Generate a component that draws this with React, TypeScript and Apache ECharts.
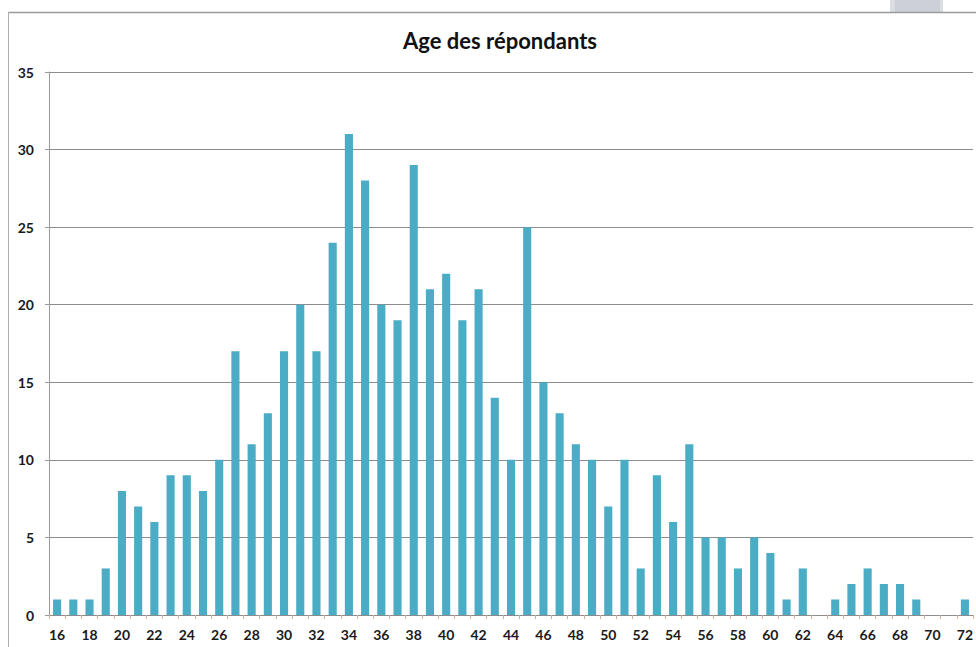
import React, { useEffect, useRef } from "react";
import * as echarts from "echarts";

const ages: string[] = [
  "16","17","18","19","20","21","22","23","24","25","26","27","28","29","30",
  "31","32","33","34","35","36","37","38","39","40","41","42","43","44","45",
  "46","47","48","49","50","51","52","53","54","55","56","57","58","59","60",
  "61","62","63","64","65","66","67","68","69","70","71","72",
];
const counts: number[] = [
  1, 1, 1, 3, 8, 7, 6, 9, 9, 8, 10, 17, 11, 13, 17,
  20, 17, 24, 31, 28, 20, 19, 29, 21, 22, 19, 21, 14, 10, 25,
  15, 13, 11, 10, 7, 10, 3, 9, 6, 11, 5, 5, 3, 5, 4,
  1, 3, 0, 1, 2, 3, 2, 2, 1, 0, 0, 1,
];
const titleText = "Age des répondants";
const yMax = 35;
const yStep = 5;

const FONT = "Lato, 'Open Sans', sans-serif";

export default function App() {
  const ref = useRef<HTMLDivElement>(null);
  useEffect(() => {
    if (!ref.current) return;
    const chart = echarts.init(ref.current, undefined, { renderer: "svg" });
    chart.setOption({
      animation: false,
      backgroundColor: "#ffffff",
      grid: { left: 49, right: 0, top: 72, bottom: 32, containLabel: false },
      graphic: [
        { type: "rect", shape: { x: 890, y: 0, width: 53, height: 12 }, style: { fill: "#dadde2" } },
        { type: "rect", shape: { x: 895, y: 0, width: 45, height: 12 }, style: { fill: "#cdd1d7" } },
        { type: "line", shape: { x1: 8, y1: 12.5, x2: 976, y2: 12.5 }, style: { stroke: "#9a9a9a", lineWidth: 1.5 } },
        { type: "line", shape: { x1: 8.5, y1: 12, x2: 8.5, y2: 647 }, style: { stroke: "#b0b0b0", lineWidth: 1 } },
        {
          type: "text",
          x: 500,
          y: 40,
          style: {
            text: titleText,
            align: "center",
            verticalAlign: "middle",
            font: `bold 22px ${FONT}`,
            fill: "#111111",
          },
        },
      ],
      xAxis: {
        type: "category",
        data: ages,
        axisLine: { show: true, lineStyle: { color: "#8c8c8c", width: 1 } },
        axisTick: { show: true, interval: 0, length: 4, lineStyle: { color: "#d9ad9c" } },
        axisLabel: {
          interval: 1,
          margin: 12,
          fontFamily: FONT,
          fontWeight: "bold",
          fontSize: 14,
          color: "#1a1a1a",
        },
        splitLine: { show: false },
      },
      yAxis: {
        type: "value",
        min: 0,
        max: yMax,
        interval: yStep,
        axisLine: { show: true, lineStyle: { color: "#9a9a9a", width: 1 } },
        axisTick: { show: true, length: 4, lineStyle: { color: "#9a9a9a" } },
        axisLabel: {
          margin: 15,
          fontFamily: FONT,
          fontWeight: "bold",
          fontSize: 14,
          color: "#1a1a1a",
        },
        splitLine: { show: true, lineStyle: { color: "#8c8c8c", width: 1 } },
      },
      series: [
        {
          type: "bar",
          data: counts,
          barWidth: "50%",
          itemStyle: { color: "#4bacc6" },
        },
      ],
    });
    return () => chart.dispose();
  }, []);
  return (
    <div
      ref={ref}
      style={{ position: "absolute", left: 0, top: 0, width: 976, height: 647 }}
    />
  );
}
